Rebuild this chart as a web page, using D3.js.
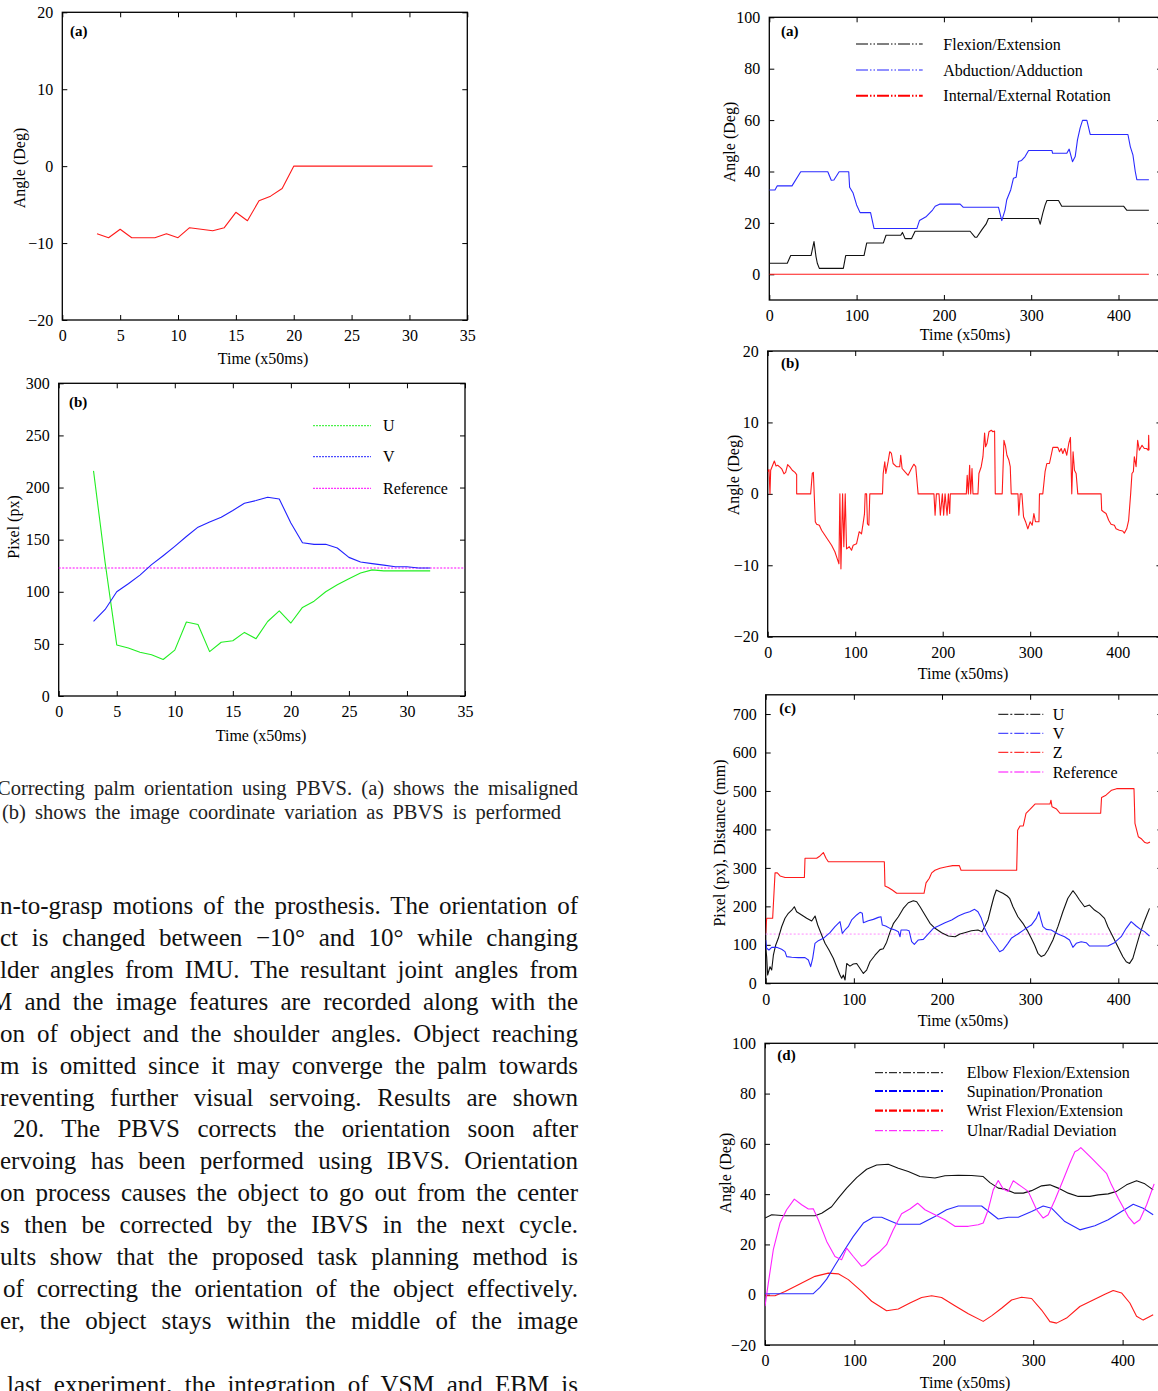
<!DOCTYPE html>
<html>
<head>
<meta charset="utf-8">
<script src="https://cdn.jsdelivr.net/npm/d3@7"></script>
<style>
  body { margin: 0; background: #fff; }
  text { font-family: "Liberation Serif", "Times New Roman", serif; fill: #000; }
  .axis text { font-size: 16px; }
  .axis line { stroke: #000; stroke-width: 1; }
  .lbl { font-size: 16px; }
  .tag { font-size: 15px; font-weight: bold; }
  .cap { font-size: 20.5px; fill: #222; }
  .body { font-size: 25px; fill: #111; }
</style>
</head>
<body>
<div id="chart"></div>
<script>
// ---- left figure (a): palm angle
var timeA = [3,4,5,6,7,8,9,10,11,12,13,14,15,16,17,18,19,20,21,22,23,24,25,26,27,28,29,30,31,32];
var angleA = [-8.8,-9.3,-8.2,-9.3,-9.3,-9.3,-8.8,-9.3,-8.0,-8.2,-8.4,-8.0,-6.0,-7.1,-4.5,-3.9,-2.9,0,0,0,0,0,0,0,0,0,0,0,0,0];

// ---- left figure (b): image coordinates
var timeB = [3,4,5,6,7,8,9,10,11,12,13,14,15,16,17,18,19,20,21,22,23,24,25,26,27,28,29,30,31,32];
var uB = [216,128,49,46,42,39.5,35,44,71,68.6,42.6,51.6,53,61,55,71.5,81.7,70,85,91,100,106.7,112.5,118,121,120,120,120,120,120];
var vB = [71.5,83,100,107.7,116,126,134.6,143.6,153,162,167,171.5,178,185,187.5,190.7,189,166,147,145.5,145.5,142,133,128.5,127,125.6,124,124,122.8,122.8];
var refB = 122.8;

// ---- right figure (a): shoulder angles  [time, deg]
var flexion = [[0,4.3],[20.6,4.3],[24.5,7.3],[47.8,7.3],[51.2,12.7],[53.5,6.9],[55,4.3],[57.3,2.3],[84.8,2.3],[87.5,7.3],[108.5,7.3],[111.6,12.2],[130.7,12.2],[133.7,15.2],[150.6,15.2],[152.5,16.3],[155.5,13.9],[163,13.9],[167,16.75],[230,16.75],[235.8,14.4],[237.7,14.4],[243.4,17.3],[248.4,19.6],[251,21.7],[308.4,21.7],[310.3,19.5],[313.3,23.8],[316,27],[318,28.7],[331.3,28.7],[335,26.5],[405.8,26.5],[409.6,24.9],[434.8,24.9]];
var abduction = [[0,32.8],[6.5,32.8],[9,34.4],[26,34.4],[36,39.9],[67,39.9],[71,36.6],[74,36.7],[80,39.9],[91,39.9],[92,33.9],[96,31.6],[100,27],[104,24],[116,24],[120,17.8],[169,17.8],[172,20.9],[180,22.5],[187,25],[190,26.5],[195,27.3],[218.6,27.3],[222,26.1],[262.5,26.1],[266.3,20.9],[270,25],[272,29],[276.6,32.9],[279.7,37.4],[282.8,37.8],[285.4,43.9],[289,44.3],[293,45.8],[297,48.2],[323.7,48.2],[324.5,47.1],[340.8,47.1],[343.5,48.7],[347.3,43.8],[350.4,45.8],[353,52.3],[356,56.9],[358.8,59.9],[363.8,59.9],[367.6,54.4],[410.8,54.4],[413.5,49.7],[416.5,46.5],[419.2,40],[421,36.8],[434.8,36.8]];
var rotation = [[0,0],[434.8,0]];

// ---- right figure (b): object orientation [time, deg]
var deviation = [[0,3.1],[0.7,3.3],[1.5,3.4],[2.6,0],[3.4,3.3],[7.6,4.6],[9.5,3.9],[11.4,4.0],[14,3.75],[16,3.5],[18.6,2.8],[20.5,3.0],[22.8,4.1],[25.5,3.75],[28.1,3.3],[31.2,3.0],[33.1,2.7],[33.1,0],[49.1,0],[51,2.9],[52.2,3.0],[54.4,-3.9],[55.9,-4.25],[59,-4.4],[61.6,-5.1],[65.4,-5.8],[69.2,-6.5],[73,-7.2],[76.8,-8.1],[79.5,-9.1],[81.4,-9.8],[82.5,0],[83.7,-10.5],[85.6,0],[87,-7.4],[88.6,0],[90.1,-7.7],[93.2,-7.4],[95.8,-7.9],[97.7,-7.2],[101.5,-7],[104.6,-5.3],[107.2,-5.6],[109.1,-4.1],[110.6,-2.8],[111.4,0],[113,0],[114,-4.2],[115.6,-4.4],[116.7,0],[131.2,0],[132,2.85],[133.8,4.5],[135,2.85],[137.6,4.5],[139.5,5.9],[141.4,5.65],[143.3,4.25],[147.1,3.8],[150.9,3.8],[152,5.4],[153.6,3.55],[156.7,3.1],[160.5,2.6],[164.3,3.55],[167,4.15],[169.2,3.8],[171.9,0],[190,0],[191.3,-3],[192.8,0],[195.8,0],[197.3,-3],[199.6,0],[201.1,-3],[202.7,0],[205,-3],[206.5,0],[208,-2.75],[208.7,0],[227,0],[228,2.6],[229.3,0],[230.8,4.0],[232,0],[233.5,3.55],[234.6,0],[240.3,0],[241.4,2.85],[244,3.8],[246,5.2],[247.9,8.5],[249,6.6],[250.6,7.05],[252.9,8.7],[255.5,8.9],[257.4,8.7],[259.3,8.8],[260.1,0],[268,0],[270,7.5],[271.9,6.6],[273.4,5.4],[275.7,4.7],[277.2,3.8],[278.3,0],[286,0],[287,-3],[288.6,0],[290.5,0],[292.4,-3.2],[294.7,-3.9],[297.3,-4.9],[300,-3.9],[302.3,-4.4],[304.2,-2.75],[306,-3.9],[310,-3.9],[310.6,0],[314.4,0],[317,3.1],[319,4.25],[322,4.25],[325.9,6.5],[331.6,6.5],[333.5,5.9],[335.4,6.35],[337.3,5.65],[339.5,6.35],[341.8,5.4],[344.1,7.05],[346,7.9],[347.5,0],[349,5.9],[350.6,3.3],[352.5,2.85],[354.4,0],[381,0],[381.7,-2.3],[383.7,-2.5],[386.7,-2.75],[389.7,-3.7],[392.4,-4.25],[396.2,-4.4],[398.1,-4.9],[401.9,-5.1],[405.7,-5.2],[407.6,-5.5],[410.3,-4.9],[412.5,-3.7],[414.8,0],[416.3,2.85],[417.9,3.1],[419,5.2],[421,3.8],[422.8,7.5],[424.7,6.1],[427.8,6.8],[430.4,6.35],[433,6.35],[435,6.1],[435.4,8.2],[435.8,6.1]];

// ---- right figure (c): U, V (px) and Z (mm)
var zDist = [[0,130],[1.1,169],[7.9,169],[10.6,287],[13.2,287],[16.3,279],[22,275],[43.9,275],[44.6,325],[57.8,325],[61.6,331],[65.4,340],[68.4,325],[71,316],[134.6,316],[135.3,253],[139,249],[144,242],[148.6,234],[179.6,234],[181.9,261],[185.6,273],[188.3,287],[192,294],[197.7,299],[205.3,303],[212.1,306],[219.7,306],[221.6,294],[284.7,294],[285.8,398],[288.5,409],[292.2,409],[295.3,442],[299.8,452],[305.5,466],[322.5,466],[323.6,476],[324.8,459],[330,453],[333.8,442],[380,442],[381,483],[386,489],[392.4,502],[398.1,506],[417.8,506],[418.9,416],[422.7,381],[426.5,375],[430.2,366],[432.9,364],[435.9,367]];
var uC = [[0,91],[1.1,69],[2.2,21.6],[4.9,43],[6.8,34.6],[8.7,73],[11.3,99],[14.3,117],[18.1,147],[21.9,169],[25.7,182],[29.5,190],[32.5,199],[35.1,186],[40.8,177.6],[46.5,169],[52.2,162],[56,175],[59,151.6],[63.5,125.6],[67.3,104],[71.8,86.6],[76.7,65],[80.5,43],[84.3,21.6],[86.2,13],[88.1,21.6],[90,8.7],[91.9,51.6],[95.6,44.7],[99.4,50],[103.2,51.6],[107,38.6],[110.8,25.6],[114.5,34.2],[118.3,56],[124,73],[129.7,87.5],[133.4,90],[137.2,107],[141,133],[144.8,155],[150.5,173],[156.1,194.6],[161.8,209.4],[167.5,214.6],[171.3,212],[175.1,199],[180.7,177.6],[186.4,155.9],[192.1,142.9],[199.6,131.6],[207.2,123],[214.8,121.2],[220.4,128.2],[225.7,131.6],[233.3,136.8],[240.8,138.6],[245.3,134.3],[248.4,147.3],[252.2,164.6],[255.9,199],[258.9,225],[261.6,242.5],[265.4,238],[269.1,234],[274,227],[276.7,221],[280.5,199],[286.1,173],[291.8,156],[297.5,134.3],[301.3,117],[305,99.6],[308.8,78],[312.6,69.4],[316.4,73.7],[320.1,86.7],[325.8,112.6],[331.5,147.3],[337.1,186],[342.8,221],[348.5,240.7],[352.3,229.5],[356,216.5],[361.7,199.1],[367.4,203.5],[373,190.5],[378.7,181.8],[384.4,168.8],[388.2,147.1],[393.9,121.2],[399.5,95.1],[405.2,69.1],[409,56.1],[412.8,51.7],[416.5,64.7],[420.3,95.1],[424.1,125.4],[427.9,151.4],[431.6,173.1],[435.4,194.8]];
var vC = [[0,112.6],[1.1,91],[3.7,86.6],[6.8,93.5],[12.4,93.5],[18.1,88.4],[21.9,82.3],[23.8,69.3],[29.5,67.6],[37,66.7],[44.6,66.7],[48.4,60.6],[51,43.3],[53.3,65],[55.9,103.9],[59.7,110.8],[65.4,116.9],[72.9,131.6],[78.6,147.3],[84.3,160.2],[86.9,129.9],[90,138.6],[93.7,147.3],[97.5,164.6],[103.2,177.6],[107,184.5],[109.6,181.8],[110.8,157.6],[116.4,162.8],[122.1,166.2],[127.8,171.4],[130.8,173.1],[132.3,151.4],[136.1,148.8],[141,142.8],[146.7,138.5],[150.5,134.1],[152.4,121.1],[153.5,138.5],[159.9,138.5],[162.6,136.8],[165.6,108.2],[168.6,101.3],[173.2,112.6],[178.8,114.3],[184.5,128.2],[190.2,142.9],[195.8,148.9],[203.4,157.6],[211,164.6],[218.5,175],[225.7,181.9],[231.4,186.2],[237,192.3],[240.8,186.2],[244.6,168.9],[248.4,142.9],[252.2,125.4],[255.9,112.6],[261.6,95.1],[265.4,82.1],[269.1,86.4],[274.8,103.9],[278.6,116.9],[286.1,128.2],[293.7,140.3],[301.3,151.4],[306.9,168.9],[309.9,186.2],[311.8,168.9],[314.5,147.3],[318.3,140.3],[323.9,138.6],[331.5,128.2],[339,121.2],[344.7,112.6],[348.5,93.5],[352.3,103.9],[357.9,108.2],[363.6,105.6],[367.4,96.9],[388.2,96.9],[395.7,105.6],[403.3,121.2],[409,142.9],[414.6,160.2],[420.3,148.9],[425.2,140.3],[429.7,134.3],[435.4,123]];
var refC = 128;

// ---- right figure (d): elbow and wrist angles [time, deg]
var elbowFlex = [[0,30.5],[7.5,31.8],[22.4,31.4],[37.3,31.4],[55.9,31.4],[63.4,32.4],[74.5,35],[82,38.4],[91.3,42.4],[102.5,46.6],[113.7,49.9],[124.9,51.6],[137.9,51.9],[149.1,50.3],[160.3,49],[173.3,47],[190.1,46.4],[201.3,47.3],[216.2,47.5],[231.1,47.4],[244.1,47],[251.6,44.6],[260.9,42.4],[268.4,42],[279.5,40.4],[288.9,40.4],[298.2,41.4],[309.4,43.3],[318.7,43.7],[328,42.4],[339.2,40.4],[350.4,39.1],[363.4,39.1],[372.7,39.7],[383.9,40.1],[393.2,41.1],[404.4,43.7],[415.6,45.3],[424.9,44.1],[434.2,41.7]];
var supination = [[0,0.4],[18.6,0.4],[54,0.4],[61.5,2.9],[69,6.2],[78.3,11.7],[89.5,18.1],[98.8,23.2],[110,28.5],[121.1,30.8],[130.5,30.8],[141.6,29.1],[149.1,28],[173.3,28],[190.1,31.1],[203.1,33.8],[216.2,35.3],[242.3,35.3],[260.9,30.1],[272.1,30.8],[283.3,30.8],[298.2,33.1],[311.2,35.3],[320.5,34.4],[335.4,29.1],[352.2,25.8],[369,27.4],[383.9,29.8],[398.8,33.1],[411.9,36],[423,34.4],[434.2,31.8]];
var wristFlex = [[0,0],[1.9,-0.4],[11.2,-0.4],[22.4,1.3],[37.3,4],[55.9,7.3],[70.8,8.6],[82,8.3],[93.2,6],[108.1,1.3],[119.3,-2.6],[136,-6.4],[149.1,-5.7],[162.1,-3.3],[175.2,-1.1],[186.4,-0.4],[197.5,-1.1],[212.4,-4.4],[227.4,-7.6],[244.1,-10.6],[253.4,-8.4],[264.6,-5.4],[275.8,-2.1],[287,-1],[298.2,-1.5],[309.4,-6.1],[318.7,-10.7],[326.1,-11.3],[337.3,-9.3],[352.2,-4.7],[367.1,-2.1],[380.2,0.2],[389.5,1.7],[398.8,0.7],[408.1,-3.3],[415.6,-8.6],[423,-10.1],[434.2,-8]];
var ulnarDev = [[0,-4.6],[3.7,4.6],[9.3,17.9],[16.8,28.5],[24.2,33.8],[32.8,38],[41,35.8],[48.5,34.1],[54,34.2],[59.6,29.8],[69,21.2],[78.3,15.2],[85.7,13.9],[91.3,18.5],[98.8,15.2],[108.1,11.3],[111.8,11.9],[119.3,14.6],[128.6,17.2],[136,19.9],[143.5,25.8],[152.8,32.2],[162.1,34.1],[170.7,36.4],[178.9,33.8],[190.1,31.8],[201.3,29.8],[212.4,27.2],[227.4,27.2],[238.5,27.8],[244.1,28.5],[249.7,33.8],[255.3,41.7],[260.9,45.4],[266.5,42],[272.1,41.1],[277.7,45.3],[287,43],[294.4,41.1],[303.8,33.8],[311.2,30.5],[316.8,31.8],[324.3,37.7],[333.6,45.7],[341,52.3],[346.6,56.9],[350.4,57.6],[353.3,58.5],[365.3,54.3],[382,48.3],[387.6,43.7],[395.1,38.4],[406.3,31.1],[413,28.2],[419.3,29.8],[426.8,35.7],[435.3,44.1]];

// ---- tick labels
var ticksTime35 = [0,5,10,15,20,25,30,35];
var ticksTime400 = [0,100,200,300,400];
var ticksAngle20 = [-20,-10,0,10,20];
var ticksPixel300 = [0,50,100,150,200,250,300];
var ticksAngle100 = [0,20,40,60,80,100];
var ticksPixel700 = [0,100,200,300,400,500,600,700];
var ticksAngleD = [-20,0,20,40,60,80,100];

// ---- page text
var captionLines = [
  "Correcting palm orientation using PBVS. (a) shows the misaligned",
  "(b) shows the image coordinate variation as PBVS is performed"
];
var bodyLines = [
  "n-to-grasp motions of the prosthesis. The orientation of",
  "ct is changed between \u221210\u00b0 and 10\u00b0 while changing",
  "lder angles from IMU. The resultant joint angles from",
  "M and the image features are recorded along with the",
  "on of object and the shoulder angles. Object reaching",
  "m is omitted since it may converge the palm towards",
  "reventing further visual servoing. Results are shown",
  "20. The PBVS corrects the orientation soon after",
  "ervoing has been performed using IBVS. Orientation",
  "on process causes the object to go out from the center",
  "s then be corrected by the IBVS in the next cycle.",
  "ults show that the proposed task planning method is",
  "of correcting the orientation of the object effectively.",
  "er, the object stays within the middle of the image",
  "",
  "last experiment, the integration of VSM and EBM is"
];
var bodyStart = [0,0,0,-10,0,0,0,13,0,0,0,0,3,0,0,7];

var svg = d3.select("#chart").append("svg")
  .attr("width", 1158)
  .attr("height", 1391);

var fmt = d3.format("d");

// draws frame, inward ticks on all sides and returns the scales
function panel(p) {
  var x = d3.scaleLinear().domain(p.xd).range([p.left, p.right]);
  var y = d3.scaleLinear().domain(p.yd).range([p.bottom, p.top]);
  var g = svg.append("g");

  svg.append("clipPath").attr("id", "clip-" + p.id)
    .append("rect")
    .attr("x", p.left).attr("y", p.top)
    .attr("width", p.right - p.left).attr("height", p.bottom - p.top);

  g.append("g").attr("class", "axis")
    .attr("transform", `translate(0, ${p.bottom})`)
    .call(d3.axisBottom(x).tickValues(p.xt).tickFormat(fmt).tickSize(-5).tickPadding(10));
  g.append("g").attr("class", "axis")
    .attr("transform", `translate(0, ${p.top})`)
    .call(d3.axisTop(x).tickValues(p.xt).tickFormat("").tickSize(-5));
  g.append("g").attr("class", "axis")
    .attr("transform", `translate(${p.left}, 0)`)
    .call(d3.axisLeft(y).tickValues(p.yt).tickFormat(fmt).tickSize(-5).tickPadding(9));
  g.append("g").attr("class", "axis")
    .attr("transform", `translate(${p.right}, 0)`)
    .call(d3.axisRight(y).tickValues(p.yt).tickFormat("").tickSize(-5));
  g.selectAll(".domain").remove();
  g.selectAll(".axis text").attr("font-family", null);

  g.append("rect")
    .attr("x", p.left).attr("y", p.top)
    .attr("width", p.right - p.left).attr("height", p.bottom - p.top)
    .attr("fill", "none").attr("stroke", "#000").attr("stroke-width", 1.3);

  g.append("text").attr("class", "tag")
    .attr("x", p.tag[0]).attr("y", p.tag[1]).attr("dy", "0.35em")
    .text(p.tagText);

  g.append("text").attr("class", "lbl")
    .attr("text-anchor", "middle")
    .attr("x", p.xl[0]).attr("y", p.xl[1]).attr("dy", "0.35em")
    .text("Time (x50ms)");

  g.append("text").attr("class", "lbl")
    .attr("text-anchor", "middle")
    .attr("transform", `translate(${p.yl[0]}, ${p.yl[1]}) rotate(-90)`)
    .attr("dy", "0.35em")
    .text(p.ylText);

  return { x: x, y: y, g: g, clip: "url(#clip-" + p.id + ")" };
}

function drawPairs(P, data, color, width) {
  var line = d3.line().x(d => P.x(d[0])).y(d => P.y(d[1]));
  P.g.append("path")
    .datum(data)
    .attr("clip-path", P.clip)
    .attr("d", line)
    .attr("fill", "none")
    .attr("stroke", color)
    .attr("stroke-width", width || 1.1)
    .attr("stroke-linejoin", "round");
}

function legend(P, items, x0, x1, tx) {
  items.forEach(function(it) {
    P.g.append("line")
      .attr("x1", x0).attr("x2", x1).attr("y1", it.y).attr("y2", it.y)
      .attr("stroke", it.color)
      .attr("stroke-width", it.w || 1)
      .attr("stroke-dasharray", it.dash);
    P.g.append("text").attr("class", "lbl")
      .attr("x", tx).attr("y", it.y).attr("dy", "0.35em")
      .text(it.label);
  });
}

// ---------------- left (a)
var LA = panel({ id: "la", left: 62.3, right: 467.3, top: 12.3, bottom: 320,
  xd: [0, 35], yd: [-20, 20], xt: ticksTime35, yt: ticksAngle20,
  tag: [70, 30.7], tagText: "(a)", xl: [263, 358], yl: [19, 168], ylText: "Angle (Deg)" });
drawPairs(LA, timeA.map((t, i) => [t, angleA[i]]), "#ff1a1a");

// ---------------- left (b)
var LB = panel({ id: "lb", left: 58.7, right: 465, top: 383.3, bottom: 696,
  xd: [0, 35], yd: [0, 300], xt: ticksTime35, yt: ticksPixel300,
  tag: [69, 401.7], tagText: "(b)", xl: [261, 735], yl: [13, 527], ylText: "Pixel (px)" });
LB.g.append("line")
  .attr("x1", LB.x(0)).attr("x2", LB.x(35))
  .attr("y1", LB.y(refB)).attr("y2", LB.y(refB))
  .attr("stroke", "#ff00ff").attr("stroke-width", 1).attr("stroke-dasharray", "2,1.5");
drawPairs(LB, timeB.map((t, i) => [t, uB[i]]), "#22ee22");
drawPairs(LB, timeB.map((t, i) => [t, vB[i]]), "#2222ff");
legend(LB, [
  { y: 425.7, color: "#22ee22", dash: "2,1", label: "U" },
  { y: 456.7, color: "#2222ff", dash: "2,1", label: "V" },
  { y: 488.3, color: "#ff00ff", dash: "2,1", label: "Reference" }
], 313, 371, 383);

// ---------------- right (a)
var RA = panel({ id: "ra", left: 769.3, right: 769.3 + 0.873 * 450, top: 17.3, bottom: 300,
  xd: [0, 450], yd: [-10, 100], xt: ticksTime400, yt: ticksAngle100,
  tag: [781, 31], tagText: "(a)", xl: [965, 334], yl: [729, 142], ylText: "Angle (Deg)" });
drawPairs(RA, rotation, "#ff1a1a");
drawPairs(RA, flexion, "#111");
drawPairs(RA, abduction, "#2a2aff");
legend(RA, [
  { y: 44, color: "#000", dash: "12,2,1.5,2,1.5,2", label: "Flexion/Extension" },
  { y: 70, color: "#2222ff", dash: "12,2,1.5,2,1.5,2", label: "Abduction/Adduction" },
  { y: 95.7, color: "#ff0000", dash: "12,2,1.5,2,1.5,2", w: 2, label: "Internal/External Rotation" }
], 856, 922.7, 943.3);

// ---------------- right (b)
var RB = panel({ id: "rb", left: 767.7, right: 767.7 + 0.875 * 450, top: 351, bottom: 636.7,
  xd: [0, 450], yd: [-20, 20], xt: ticksTime400, yt: ticksAngle20,
  tag: [781, 362.7], tagText: "(b)", xl: [963, 673], yl: [733, 475], ylText: "Angle (Deg)" });
drawPairs(RB, deviation, "#ff1a1a");

// ---------------- right (c)
var RC = panel({ id: "rc", left: 765.7, right: 765.7 + 0.8815 * 450, top: 694.8, bottom: 983.3,
  xd: [0, 450], yd: [0, 750], xt: ticksTime400, yt: ticksPixel700,
  tag: [779.3, 707.3], tagText: "(c)", xl: [963, 1020], yl: [719, 843], ylText: "Pixel (px), Distance (mm)" });
RC.g.append("line")
  .attr("x1", RC.x(0)).attr("x2", RC.x(435.9))
  .attr("y1", RC.y(refC)).attr("y2", RC.y(refC))
  .attr("stroke", "#ff88ff").attr("stroke-width", 1).attr("stroke-dasharray", "2,2");
drawPairs(RC, zDist, "#ff1a1a");
drawPairs(RC, uC, "#111");
drawPairs(RC, vC, "#2a2aff");
legend(RC, [
  { y: 714.3, color: "#000", dash: "10,2,2,2", label: "U" },
  { y: 733.3, color: "#2222ff", dash: "10,2,2,2", label: "V" },
  { y: 752.3, color: "#ff0000", dash: "10,2,2,2", label: "Z" },
  { y: 772, color: "#ff00ff", dash: "10,2,2,2", label: "Reference" }
], 998.3, 1043.3, 1052.7);

// ---------------- right (d)
var RD = panel({ id: "rd", left: 765, right: 765 + 0.894 * 450, top: 1043.3, bottom: 1345,
  xd: [0, 450], yd: [-20, 100], xt: ticksTime400, yt: ticksAngleD,
  tag: [777.3, 1054.3], tagText: "(d)", xl: [965, 1382.7], yl: [725, 1173], ylText: "Angle (Deg)" });
drawPairs(RD, wristFlex, "#ff1a1a");
drawPairs(RD, supination, "#2a2aff");
drawPairs(RD, elbowFlex, "#111");
drawPairs(RD, ulnarDev, "#ff22ff");
legend(RD, [
  { y: 1072.7, color: "#000", dash: "8,2,2,2", label: "Elbow Flexion/Extension" },
  { y: 1091, color: "#0000ff", dash: "8,2,2,2", w: 2.2, label: "Supination/Pronation" },
  { y: 1110.7, color: "#ff0000", dash: "8,2,2,2", w: 2.2, label: "Wrist Flexion/Extension" },
  { y: 1130.7, color: "#ff00ff", dash: "8,2,2,2", label: "Ulnar/Radial Deviation" }
], 875, 944, 966.7);

// ---------------- caption and body text, justified
function justify(sel, x1) {
  sel.each(function() {
    var t = d3.select(this);
    var txt = t.text();
    var n = (txt.match(/ /g) || []).length;
    var w = this.getComputedTextLength();
    var x0 = +t.attr("x");
    if (n > 0) t.style("word-spacing", ((x1 - x0 - w) / n) + "px");
  });
}

svg.append("g").selectAll("text")
  .data(captionLines)
  .join("text")
  .attr("class", "cap")
  .attr("x", (d, i) => i === 0 ? -3 : 2)
  .attr("y", (d, i) => 795 + i * 24)
  .text(d => d)
  .call(function(sel) {
    justify(sel.filter((d, i) => i === 0), 578);
    justify(sel.filter((d, i) => i === 1), 561);
  });

svg.append("g").selectAll("text")
  .data(bodyLines)
  .join("text")
  .attr("class", "body")
  .attr("x", (d, i) => bodyStart[i])
  .attr("y", (d, i) => 914 + i * 31.92)
  .text(d => d)
  .call(justify, 578);
</script>
</body>
</html>
